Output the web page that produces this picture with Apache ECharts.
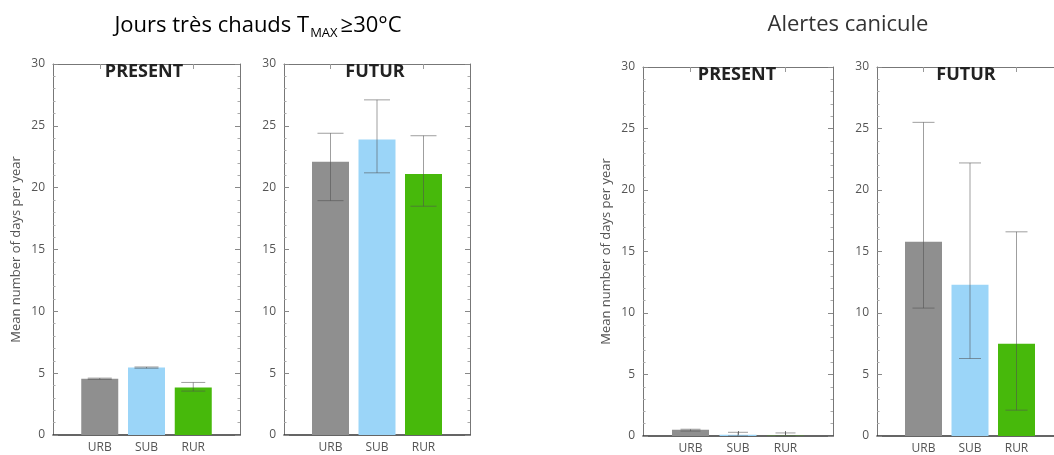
<!DOCTYPE html>
<html>
<head>
<meta charset="utf-8">
<script src="https://cdn.jsdelivr.net/npm/echarts@6/dist/echarts.min.js"></script>
<style>
html,body{margin:0;padding:0;background:#fff;}
#chart{width:1054px;height:455px;}
</style>
</head>
<body>
<div id="chart"></div>
<script>
// ---- data ----
const categories = ['URB', 'SUB', 'RUR'];
const yTicks = [0, 5, 10, 15, 20, 25, 30];
const panelTitles = ['PRESENT', 'FUTUR', 'PRESENT', 'FUTUR'];
const sectionTitles = ['Jours très chauds', 'Alertes canicule'];
const yAxisTitle = 'Mean number of days per year';

const hotPresent = [4.55, 5.45, 3.85];
const hotPresentLow = [4.5, 5.4, 3.55];
const hotPresentHigh = [4.6, 5.5, 4.25];

const hotFuture = [22.1, 23.9, 21.1];
const hotFutureLow = [18.95, 21.2, 18.5];
const hotFutureHigh = [24.4, 27.1, 24.2];

const alertPresent = [0.5, 0.1, 0.02];
const alertPresentLow = [0.4, 0.0, 0.0];
const alertPresentHigh = [0.55, 0.3, 0.25];

const alertFuture = [15.8, 12.3, 7.5];
const alertFutureLow = [10.4, 6.3, 2.1];
const alertFutureHigh = [25.5, 22.2, 16.6];

const barColors = ['#8f8f8f', '#9bd5f8', '#47b90b'];

// ---- layout ----
const panels = [
  {left: 53, top: 64, width: 187, height: 371, xMax: 4, rightFrame: true, titleX: 144, vals: hotPresent, lo: hotPresentLow, hi: hotPresentHigh, cap: 12, yname: true},
  {left: 284, top: 64, width: 186, height: 371, xMax: 4, rightFrame: true, titleX: 375, vals: hotFuture, lo: hotFutureLow, hi: hotFutureHigh, cap: 13, yname: false},
  {left: 643, top: 67, width: 190, height: 372, xMax: 4, rightFrame: true, titleX: 737, vals: alertPresent, lo: alertPresentLow, hi: alertPresentHigh, cap: 10, yname: true},
  {left: 877, top: 67, width: 177, height: 372, xMax: 177 / 46.5, rightFrame: false, titleX: 966, vals: alertFuture, lo: alertFutureLow, hi: alertFutureHigh, cap: 11, yname: false}
];

const labelFont = 'Open Sans';
const grid = [], xAxis = [], yAxis = [], series = [], graphic = [];

panels.forEach((p, i) => {
  grid.push({left: p.left, top: p.top, width: p.width, height: p.height, containLabel: false});
  // bottom x axis
  xAxis.push({
    type: 'value', gridIndex: i, min: 0, max: p.xMax, interval: 1, position: 'bottom',
    axisLine: {show: true, onZero: false, lineStyle: {color: '#333', width: 1.5}},
    axisTick: {show: true, inside: true, length: 5, lineStyle: {color: '#777'}, customValues: [1, 2, 3]},
    axisLabel: {show: true, customValues: [1, 2, 3], margin: 7, color: '#555', fontSize: 12, fontFamily: labelFont,
      formatter: v => categories[Math.round(v) - 1] || ''},
    splitLine: {show: false}
  });
  // top x axis (frame)
  xAxis.push({
    type: 'value', gridIndex: i, min: 0, max: p.xMax, interval: 1, position: 'top',
    axisLine: {show: true, onZero: false, lineStyle: {color: '#777', width: 1}},
    axisTick: {show: true, inside: true, length: 5, lineStyle: {color: '#999'}, customValues: [1, 3]},
    axisLabel: {show: false},
    splitLine: {show: false}
  });
  // left y axis
  yAxis.push({
    type: 'value', gridIndex: i, min: 0, max: 30, interval: 5, position: 'left',
    name: p.yname ? yAxisTitle : '', nameLocation: 'middle', nameGap: 30, nameRotate: 90,
    nameTextStyle: {color: '#555', fontSize: 13, fontFamily: labelFont},
    axisLine: {show: true, onZero: false, lineStyle: {color: '#777', width: 1}},
    axisTick: {show: true, inside: true, length: 5, lineStyle: {color: '#888'}},
    minorTick: {show: true, splitNumber: 5, length: 2.5, lineStyle: {color: '#aaa'}},
    axisLabel: {show: true, margin: 8, color: '#555', fontSize: 12, fontFamily: labelFont},
    splitLine: {show: false}
  });
  // right y axis (frame)
  yAxis.push({
    type: 'value', gridIndex: i, min: 0, max: 30, interval: 5, position: 'right', show: p.rightFrame,
    axisLine: {show: true, onZero: false, lineStyle: {color: '#777', width: 1}},
    axisTick: {show: true, inside: true, length: 5, lineStyle: {color: '#888'}},
    minorTick: {show: true, splitNumber: 5, length: 2.5, lineStyle: {color: '#aaa'}},
    axisLabel: {show: false},
    splitLine: {show: false}
  });

  const xi = i * 2, yi = i * 2;
  series.push({
    type: 'bar', xAxisIndex: xi, yAxisIndex: yi, barWidth: 37, z: 2,
    data: p.vals.map((v, k) => ({value: [k + 1, v], itemStyle: {color: barColors[k]}}))
  });
  series.push({
    type: 'custom', xAxisIndex: xi, yAxisIndex: yi, z: 3,
    data: p.vals.map((v, k) => [k + 1, p.lo[k], p.hi[k]]),
    encode: {x: 0, y: [1, 2]},
    renderItem: (params, api) => {
      const x = api.value(0);
      const a = api.coord([x, api.value(1)]);
      const b = api.coord([x, api.value(2)]);
      const hw = p.cap;
      const st = {stroke: 'rgba(80,80,80,0.55)', lineWidth: 1};
      return {
        type: 'group',
        children: [
          {type: 'line', shape: {x1: a[0], y1: a[1], x2: b[0], y2: b[1]}, style: st},
          {type: 'line', shape: {x1: a[0] - hw, y1: a[1], x2: a[0] + hw, y2: a[1]}, style: st},
          {type: 'line', shape: {x1: b[0] - hw, y1: b[1], x2: b[0] + hw, y2: b[1]}, style: st}
        ]
      };
    }
  });

  graphic.push({
    type: 'text', x: p.titleX, y: p.top + 8, z: 10,
    style: {text: panelTitles[i], align: 'center', verticalAlign: 'middle',
      font: 'bold 18px "Open Sans"', fill: '#222'}
  });
});

// section titles
graphic.push({
  type: 'text', x: 258, y: 28, z: 10,
  style: {
    text: '{a|' + sectionTitles[0] + ' T}{s|MAX}{g|≥}{a|30°C}',
    align: 'center', verticalAlign: 'middle',
    rich: {
      a: {fontSize: 22, fontFamily: 'Open Sans', color: '#333', verticalAlign: 'top', lineHeight: 26},
      s: {fontSize: 13, fontFamily: 'Open Sans', color: '#333', verticalAlign: 'top', lineHeight: 26, padding: [12, 3, 0, 1]},
      g: {fontSize: 22, fontFamily: 'Open Sans', color: '#8aa8cc', verticalAlign: 'top', lineHeight: 26}
    }
  }
});
graphic.push({
  type: 'text', x: 848, y: 25, z: 10,
  style: {text: sectionTitles[1], align: 'center', verticalAlign: 'middle',
    font: '22px "Open Sans"', fill: '#333'}
});

const chart = echarts.init(document.getElementById('chart'), null, {renderer: 'canvas'});
chart.setOption({
  backgroundColor: '#fff',
  animation: false,
  grid, xAxis, yAxis, series, graphic
});
</script>
</body>
</html>
